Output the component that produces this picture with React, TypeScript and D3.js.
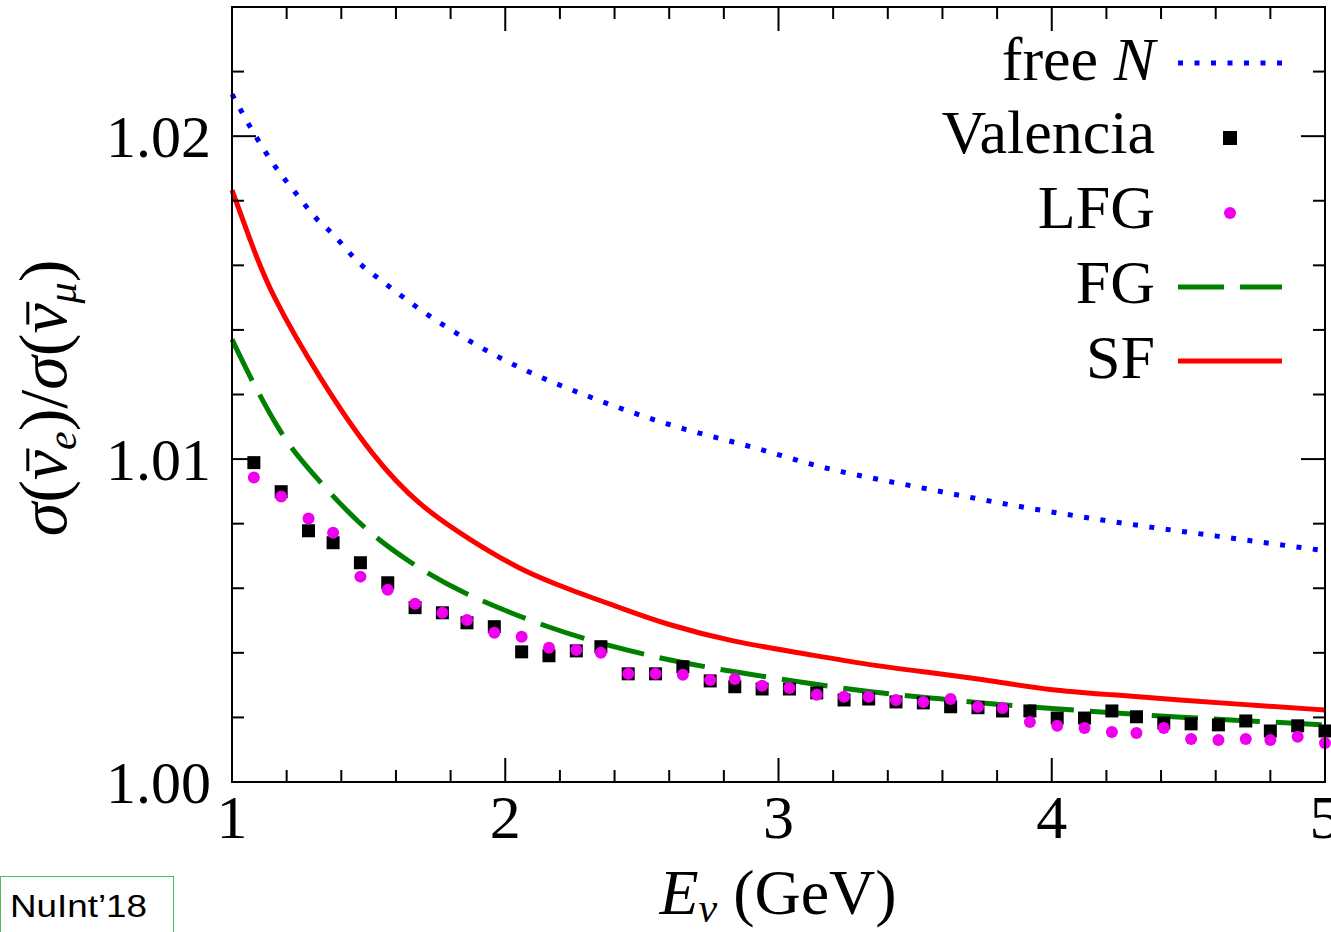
import { useLayoutEffect, useRef, useState } from "react";
import * as d3 from "d3";

// energies (GeV) of the Valencia / LFG points
const energies = [
  1.08, 1.18, 1.28, 1.37, 1.47, 1.57, 1.67, 1.77, 1.86, 1.96, 2.06, 2.16, 2.26, 2.35,
  2.45, 2.55, 2.65, 2.75, 2.84, 2.94, 3.04, 3.14, 3.24, 3.33, 3.43, 3.53, 3.63, 3.73,
  3.82, 3.92, 4.02, 4.12, 4.22, 4.31, 4.41, 4.51, 4.61, 4.71, 4.8, 4.9, 5.0,
];
const valencia = [
  1.00989, 1.00899, 1.00778, 1.00741, 1.00679, 1.00617, 1.0054, 1.00524, 1.00493, 1.00481,
  1.00403, 1.00391, 1.00406, 1.00419, 1.00335, 1.00335, 1.00357, 1.00313, 1.00295, 1.00288,
  1.00288, 1.00276, 1.00254, 1.00257, 1.00248, 1.00245, 1.00233, 1.0023, 1.0022, 1.0022,
  1.00198, 1.00198, 1.0022, 1.00202, 1.00183, 1.0018, 1.00177, 1.00189, 1.00158, 1.00174,
  1.00158,
];
const lfg = [
  1.00943, 1.00884, 1.00816, 1.00772, 1.00636, 1.00595, 1.00552, 1.00524, 1.00502, 1.00462,
  1.0045, 1.00416, 1.00409, 1.004, 1.00335, 1.00335, 1.00332, 1.00316, 1.00319, 1.00298,
  1.00291, 1.0027, 1.00264, 1.00264, 1.00254, 1.00248, 1.00257, 1.00233, 1.00229, 1.00186,
  1.00174, 1.00167, 1.00155, 1.00152, 1.00167, 1.00133, 1.0013, 1.00133, 1.0013, 1.0014,
  1.00121,
];

// curves
const freeE = [1.0, 1.091, 1.157, 1.234, 1.311, 1.359, 1.479, 1.531, 1.677, 1.725, 1.992, 2.336, 2.577, 2.921, 3.152, 3.518, 3.884, 4.25, 4.616, 4.974, 5.0];
const freeV = [1.0213, 1.01994, 1.01907, 1.01823, 1.01743, 1.01705, 1.01597, 1.01563, 1.0147, 1.01442, 1.01309, 1.01184, 1.01113, 1.01033, 1.00977, 1.00912, 1.00853, 1.00803, 1.0076, 1.00719, 1.00716];

const sfE = [1.0, 1.07, 1.139, 1.322, 1.516, 1.688, 1.871, 2.054, 2.237, 2.42, 2.592, 2.834, 3.079, 3.324, 3.565, 3.811, 3.983, 4.224, 4.469, 4.715, 5.0];
const sfV = [1.01833, 1.0167, 1.01516, 1.01247, 1.01005, 1.00853, 1.0075, 1.00657, 1.00595, 1.0054, 1.00487, 1.00434, 1.004, 1.00363, 1.00338, 1.0031, 1.00285, 1.0027, 1.00254, 1.00239, 1.00223];

const fgE = [1.0, 1.066, 1.176, 1.249, 1.468, 1.651, 1.834, 2.175, 2.394, 2.592, 2.834, 3.079, 3.324, 3.565, 3.811, 3.983, 4.261, 4.715, 5.0];
const fgV = [1.01371, 1.01253, 1.01082, 1.00998, 1.00791, 1.00679, 1.00586, 1.00471, 1.00419, 1.00378, 1.00341, 1.0031, 1.00279, 1.0026, 1.00239, 1.00229, 1.00211, 1.00189, 1.00177];

const xTickLabels = ["1", "2", "3", "4", "5"];
const yTickLabels = ["1.00", "1.01", "1.02"];

const W = 1331;
const H = 932;
const serif = "'Liberation Serif', 'DejaVu Serif', serif";
const yLabelTransform = "translate(66,398) rotate(-90)";

const x = d3.scaleLinear().domain([1, 5]).range([232, 1325]);
const y = d3.scaleLinear().domain([1.0, 1.024]).range([782, 7]);

const lineSmooth = d3
  .line<[number, number]>()
  .x((d) => x(d[0]))
  .y((d) => y(d[1]))
  .curve(d3.curveBasis);

const lineMono = d3
  .line<[number, number]>()
  .x((d) => x(d[0]))
  .y((d) => y(d[1]))
  .curve(d3.curveMonotoneX);

const zip = (a: number[], b: number[]) => a.map((v, i) => [v, b[i]] as [number, number]);

export default function App() {
  const labelRef = useRef<SVGTextElement>(null);
  const [bars, setBars] = useState<{ x1: number; x2: number; y: number }[]>([]);

  // place the bars over the two nu's of the y title
  useLayoutEffect(() => {
    const el = labelRef.current;
    if (!el) return;
    const out: { x1: number; x2: number; y: number }[] = [];
    [2, 8].forEach((idx) => {
      try {
        const r = el.getExtentOfChar(idx);
        out.push({ x1: r.x + r.width * 0.3, x2: r.x + r.width * 1.05, y: r.y + r.height * 0.3 });
      } catch (e) {
        // ignore
      }
    });
    setBars(out);
  }, []);

  const [x0, x1] = x.range();
  const [y0, y1] = y.range();
  const xMinor = d3.range(1, 5.0001, 0.2);
  const yMinor = d3.range(1.0, 1.0241, 0.002);
  const xMajor = [1, 2, 3, 4, 5];
  const yMajor = [1.0, 1.01, 1.02];

  const legendRows = [
    { key: "free", yb: 80 },
    { key: "Valencia", yb: 153 },
    { key: "LFG", yb: 228 },
    { key: "FG", yb: 303 },
    { key: "SF", yb: 378 },
  ];

  return (
    <svg
      width={W}
      height={H}
      style={{ position: "absolute", left: 0, top: 0, background: "#fff" }}
    >
      <rect x={0} y={0} width={W} height={H} fill="#fff" />

      {/* curves */}
      <path
        d={lineMono(zip(freeE, freeV)) || ""}
        fill="none"
        stroke="#0000ff"
        strokeWidth={5}
        strokeDasharray="5 11.5"
      />
      <path d={lineSmooth(zip(sfE, sfV)) || ""} fill="none" stroke="#ff0000" strokeWidth={5} />
      <path
        d={lineSmooth(zip(fgE, fgV)) || ""}
        fill="none"
        stroke="#008000"
        strokeWidth={5}
        strokeDasharray="46 16"
      />

      {/* points */}
      {energies.map((e, i) => (
        <rect
          key={"v" + i}
          x={x(e) - 6.5}
          y={y(valencia[i]) - 6.5}
          width={13}
          height={13}
          fill="#000"
        />
      ))}
      {energies.map((e, i) => (
        <circle key={"l" + i} cx={x(e)} cy={y(lfg[i])} r={6} fill="#ee00ee" />
      ))}

      {/* frame */}
      <rect x={x0} y={y1} width={x1 - x0} height={y0 - y1} fill="none" stroke="#000" strokeWidth={2} />

      {/* ticks */}
      {xMinor.map((v, i) => {
        const len = xMajor.some((m) => Math.abs(m - v) < 1e-6) ? 24 : 12;
        return (
          <g key={"xt" + i} stroke="#000" strokeWidth={2}>
            <line x1={x(v)} x2={x(v)} y1={y0} y2={y0 - len} />
            <line x1={x(v)} x2={x(v)} y1={y1} y2={y1 + len} />
          </g>
        );
      })}
      {yMinor.map((v, i) => {
        const len = yMajor.some((m) => Math.abs(m - v) < 1e-6) ? 24 : 12;
        return (
          <g key={"yt" + i} stroke="#000" strokeWidth={2}>
            <line x1={x0} x2={x0 + len} y1={y(v)} y2={y(v)} />
            <line x1={x1} x2={x1 - len} y1={y(v)} y2={y(v)} />
          </g>
        );
      })}

      {/* tick labels */}
      {xMajor.map((v, i) => (
        <text
          key={"xl" + i}
          x={x(v)}
          y={838}
          textAnchor="middle"
          fontFamily={serif}
          fontSize={62}
          fill="#000"
        >
          {xTickLabels[i]}
        </text>
      ))}
      {yMajor.map((v, i) => (
        <text
          key={"yl" + i}
          x={211}
          y={y(v) + 21}
          textAnchor="end"
          fontFamily={serif}
          fontSize={60}
          fill="#000"
        >
          {yTickLabels[i]}
        </text>
      ))}

      {/* axis titles */}
      <text x={778} y={914} textAnchor="middle" fontFamily={serif} fontSize={64} fill="#000">
        <tspan fontStyle="italic">E</tspan>
        <tspan fontStyle="italic" fontSize={42} dy={8}>ν</tspan>
        <tspan dy={-8}> (GeV)</tspan>
      </text>
      <text
        ref={labelRef}
        transform={yLabelTransform}
        textAnchor="middle"
        fontFamily={serif}
        fontSize={68}
        fill="#000"
      >
        <tspan fontStyle="italic">σ</tspan>
        <tspan>(</tspan>
        <tspan fontStyle="italic">ν</tspan>
        <tspan fontStyle="italic" fontSize={42} dy={10}>e</tspan>
        <tspan dy={-10}>)/</tspan>
        <tspan fontStyle="italic">σ</tspan>
        <tspan>(</tspan>
        <tspan fontStyle="italic">ν</tspan>
        <tspan fontStyle="italic" fontSize={42} dy={10}>μ</tspan>
        <tspan dy={-10}>)</tspan>
      </text>
      <g transform={yLabelTransform}>
        {bars.map((b, i) => (
          <line key={"bar" + i} x1={b.x1} x2={b.x2} y1={b.y} y2={b.y} stroke="#000" strokeWidth={3} />
        ))}
      </g>

      {/* legend */}
      {legendRows.map((r) => (
        <text
          key={"lt" + r.key}
          x={1155}
          y={r.yb}
          textAnchor="end"
          fontFamily={serif}
          fontSize={62}
          fill="#000"
        >
          {r.key === "free" ? (
            <>
              <tspan>free </tspan>
              <tspan fontStyle="italic">N</tspan>
            </>
          ) : (
            r.key
          )}
        </text>
      ))}
      <line x1={1178} x2={1282} y1={63} y2={63} stroke="#0000ff" strokeWidth={5} strokeDasharray="5 11.5" />
      <rect x={1223} y={131} width={14} height={14} fill="#000" />
      <circle cx={1230} cy={213} r={6} fill="#ee00ee" />
      <line x1={1178} x2={1282} y1={287} y2={287} stroke="#008000" strokeWidth={5} strokeDasharray="46 16" />
      <line x1={1178} x2={1282} y1={361} y2={361} stroke="#ff0000" strokeWidth={5} />

      {/* conference tag */}
      <rect x={0.5} y={876.5} width={173} height={70} fill="#fff" stroke="#4cbb6c" strokeWidth={1} />
      <text
        x={10}
        y={917}
        fontFamily="'Liberation Sans', Arial, sans-serif"
        fontSize={32}
        textLength={137}
        lengthAdjust="spacingAndGlyphs"
        fill="#000"
      >
        NuInt’18
      </text>
    </svg>
  );
}
